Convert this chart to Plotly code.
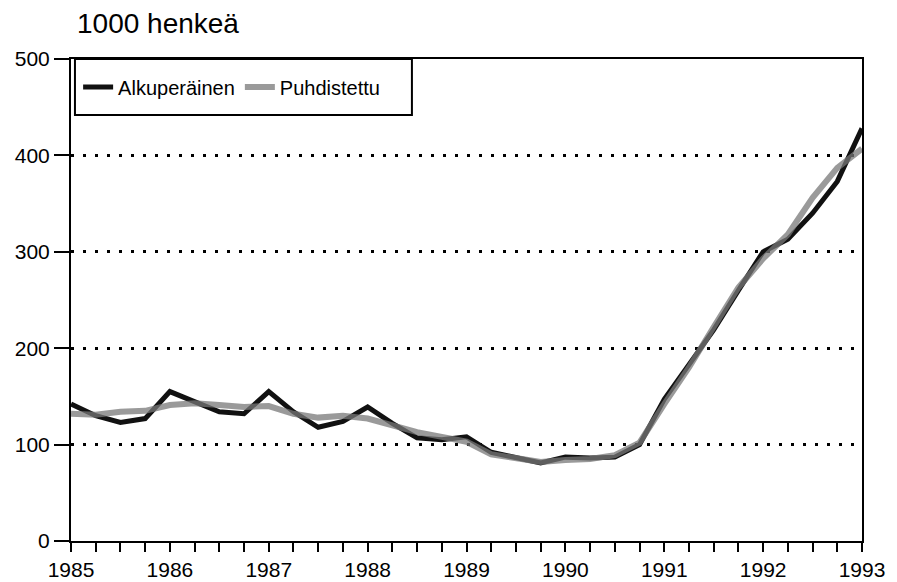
import plotly.graph_objects as go

quarters = [1985.0, 1985.25, 1985.5, 1985.75, 1986.0, 1986.25, 1986.5, 1986.75,
            1987.0, 1987.25, 1987.5, 1987.75, 1988.0, 1988.25, 1988.5, 1988.75,
            1989.0, 1989.25, 1989.5, 1989.75, 1990.0, 1990.25, 1990.5, 1990.75,
            1991.0, 1991.25, 1991.5, 1991.75, 1992.0, 1992.25, 1992.5, 1992.75,
            1993.0]

alkuperainen = [142, 130, 123, 127, 155, 144, 134, 132,
                155, 134, 118, 124, 139, 122, 107, 105,
                108, 92, 87, 81, 87, 86, 87, 100,
                147, 183, 219, 260, 300, 313, 340, 373,
                428]

puhdistettu = [132, 131, 134, 135, 141, 143, 141, 139,
               140, 132, 128, 130, 127, 120, 113, 108,
               103, 90, 86, 82, 84, 85, 89, 102,
               142, 180, 222, 263, 293, 318, 356, 387,
               407]

year_ticks = [1985, 1986, 1987, 1988, 1989, 1990, 1991, 1992, 1993]
y_ticks = [0, 100, 200, 300, 400, 500]

fig = go.Figure()
fig.add_trace(go.Scatter(x=quarters, y=alkuperainen, mode="lines",
                         name="Alkuperäinen",
                         line=dict(color="#111111", width=5)))
fig.add_trace(go.Scatter(x=quarters, y=puhdistettu, mode="lines",
                         name="Puhdistettu",
                         line=dict(color="rgba(120,120,120,0.75)", width=6)))

font = dict(family="Liberation Sans, Arial, sans-serif", size=21, color="black")

fig.update_layout(
    width=897, height=582,
    margin=dict(l=71, r=35, t=59, b=41, autoexpand=False),
    paper_bgcolor="white", plot_bgcolor="white",
    font=font,
    showlegend=True,
    legend=dict(orientation="h", x=0.009, y=0.942, xanchor="left", yanchor="middle",
                borderwidth=0, bgcolor="rgba(0,0,0,0)",
                font=dict(size=20), tracegroupgap=0),
    shapes=[dict(type="rect", xref="paper", yref="paper",
                 x0=0.005, x1=0.431, y0=0.884, y1=1.0,
                 line=dict(color="black", width=2), fillcolor="white", layer="below")],
    annotations=[dict(text="1000 henkeä", xref="paper", yref="paper",
                      x=0.0, y=1.0, xanchor="left", yanchor="middle",
                      xshift=4, yshift=36,
                      showarrow=False, font=dict(size=28))],
)

fig.update_xaxes(range=[1985, 1993], tickvals=year_ticks,
                 ticktext=[str(v) for v in year_ticks],
                 ticks="outside", ticklen=9, tickwidth=2, tickcolor="black",
                 minor=dict(dtick=0.25, tick0=1985, ticks="outside", ticklen=9,
                            tickwidth=2, tickcolor="black", showgrid=False),
                 showgrid=False, zeroline=False, automargin=False,
                 showline=True, linecolor="black", linewidth=2, mirror=True,
                 tickfont=font)

fig.update_yaxes(range=[0, 500], tickvals=y_ticks,
                 ticks="outside", ticklen=15, tickwidth=2, tickcolor="black",
                 showgrid=True, gridcolor="black", gridwidth=3, griddash="3px,9px",
                 zeroline=False, automargin=False,
                 showline=True, linecolor="black", linewidth=2, mirror=True,
                 tickfont=font)

fig.write_html("out.html", config={"displayModeBar": False},
               post_script="document.body.style.margin='0';document.body.style.overflow='hidden';")
